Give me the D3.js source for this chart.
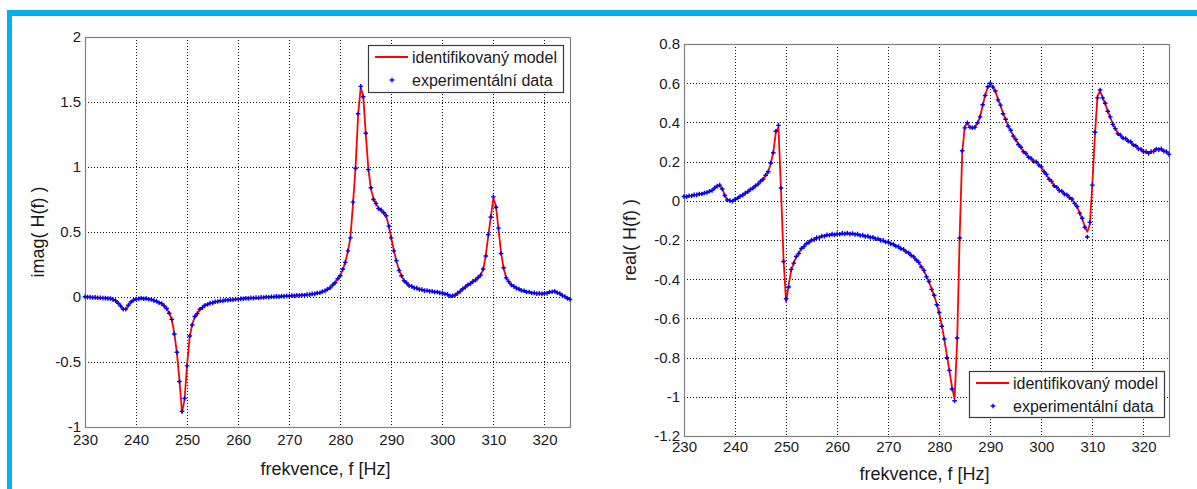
<!DOCTYPE html>
<html>
<head>
<meta charset="utf-8">
<script src="https://cdn.jsdelivr.net/npm/d3@7"></script>
<style>
  body { margin: 0; background: #fff; }
  svg text { font-family: "Liberation Sans", Arial, sans-serif; fill: #1a1a1a; }
</style>
</head>
<body>
<svg id="svg1" width="1197" height="489"></svg>
<script>
(function (d3) {
    'use strict';

    // frequency grid of the measurement, Hz
    const fStart = 230;
    const fStep = 0.5;
    const fDomain = [230, 325];
    const xTicks = [230, 240, 250, 260, 270, 280, 290, 300, 310, 320];
    const imagTicks = [-1, -0.5, 0, 0.5, 1, 1.5, 2];
    const realTicks = [-1.2, -1, -0.8, -0.6, -0.4, -0.2, 0, 0.2, 0.4, 0.6, 0.8];
    const legendLabels = ["identifikovaný model", "experimentální data"];

    // imag( H(f) ), values every 0.5 Hz from 230 to 325
    const imagModel = [
        0.000, 0.000, -0.002, -0.003, -0.004, -0.005, -0.007, -0.008, -0.010, -0.011,
        -0.013, -0.018, -0.026, -0.045, -0.068, -0.092, -0.095, -0.066, -0.040, -0.025,
        -0.017, -0.013, -0.012, -0.012, -0.013, -0.016, -0.020, -0.026, -0.034, -0.042,
        -0.052, -0.066, -0.090, -0.122, -0.175, -0.280, -0.430, -0.640, -0.890, -0.790,
        -0.520, -0.310, -0.210, -0.155, -0.125, -0.097, -0.080, -0.066, -0.056, -0.049,
        -0.043, -0.038, -0.034, -0.031, -0.028, -0.026, -0.024, -0.022, -0.020, -0.018,
        -0.016, -0.015, -0.013, -0.012, -0.010, -0.009, -0.008, -0.007, -0.006, -0.005,
        -0.003, -0.002, -0.001, 0.000, 0.002, 0.003, 0.004, 0.005, 0.006, 0.007,
        0.008, 0.009, 0.010, 0.011, 0.012, 0.013, 0.015, 0.017, 0.019, 0.022,
        0.025, 0.029, 0.034, 0.040, 0.048, 0.058, 0.072, 0.090, 0.112, 0.138,
        0.165, 0.210, 0.270, 0.350, 0.460, 0.720, 1.000, 1.400, 1.610, 1.550,
        1.250, 0.990, 0.830, 0.760, 0.715, 0.685, 0.665, 0.652, 0.620, 0.550,
        0.450, 0.360, 0.275, 0.210, 0.160, 0.128, 0.105, 0.090, 0.080, 0.072,
        0.066, 0.060, 0.055, 0.051, 0.048, 0.045, 0.042, 0.040, 0.037, 0.034,
        0.030, 0.025, 0.018, 0.010, 0.008, 0.015, 0.028, 0.045, 0.062, 0.078,
        0.092, 0.105, 0.118, 0.132, 0.148, 0.170, 0.210, 0.320, 0.470, 0.620,
        0.760, 0.700, 0.520, 0.340, 0.220, 0.150, 0.115, 0.095, 0.080, 0.070,
        0.060, 0.052, 0.046, 0.041, 0.037, 0.033, 0.030, 0.028, 0.026, 0.026,
        0.027, 0.030, 0.036, 0.042, 0.042, 0.035, 0.025, 0.014, 0.002, -0.010,
        -0.020
    ];
    const imagData = [
        0.002, -0.001, -0.001, -0.004, -0.003, -0.006, -0.006, -0.009, -0.009, -0.012,
        -0.012, -0.020, -0.028, -0.048, -0.070, -0.094, -0.093, -0.064, -0.038, -0.024,
        -0.015, -0.014, -0.010, -0.013, -0.012, -0.017, -0.019, -0.028, -0.033, -0.044,
        -0.050, -0.068, -0.088, -0.125, -0.172, -0.285, -0.425, -0.650, -0.880, -0.780,
        -0.530, -0.300, -0.215, -0.150, -0.128, -0.094, -0.082, -0.064, -0.058, -0.047,
        -0.045, -0.036, -0.035, -0.029, -0.029, -0.024, -0.025, -0.020, -0.021, -0.016,
        -0.017, -0.013, -0.014, -0.010, -0.011, -0.007, -0.009, -0.005, -0.007, -0.003,
        -0.004, 0.000, -0.002, 0.002, 0.001, 0.005, 0.003, 0.007, 0.005, 0.009,
        0.007, 0.011, 0.009, 0.013, 0.011, 0.015, 0.014, 0.019, 0.018, 0.024,
        0.024, 0.031, 0.033, 0.042, 0.047, 0.060, 0.070, 0.092, 0.110, 0.140,
        0.163, 0.213, 0.266, 0.355, 0.455, 0.730, 0.990, 1.410, 1.620, 1.540,
        1.260, 0.980, 0.840, 0.750, 0.720, 0.680, 0.670, 0.648, 0.625, 0.545,
        0.455, 0.355, 0.280, 0.205, 0.163, 0.125, 0.108, 0.087, 0.082, 0.070,
        0.068, 0.058, 0.057, 0.049, 0.050, 0.043, 0.044, 0.038, 0.039, 0.032,
        0.032, 0.023, 0.020, 0.008, 0.010, 0.013, 0.030, 0.043, 0.064, 0.076,
        0.094, 0.103, 0.120, 0.130, 0.150, 0.168, 0.215, 0.315, 0.480, 0.615,
        0.770, 0.690, 0.530, 0.335, 0.225, 0.147, 0.118, 0.093, 0.082, 0.068,
        0.062, 0.050, 0.048, 0.039, 0.039, 0.031, 0.032, 0.026, 0.028, 0.024,
        0.029, 0.028, 0.038, 0.040, 0.044, 0.033, 0.027, 0.012, 0.004, -0.012,
        -0.018
    ];

    // real( H(f) ), values every 0.5 Hz from 230 to 325
    const realModel = [
        0.020, 0.022, 0.024, 0.026, 0.029, 0.031, 0.034, 0.036, 0.039, 0.043,
        0.047, 0.054, 0.064, 0.076, 0.078, 0.062, 0.025, 0.006, 0.000, 0.000,
        0.007, 0.014, 0.022, 0.030, 0.038, 0.047, 0.056, 0.065, 0.075, 0.086,
        0.098, 0.112, 0.128, 0.150, 0.190, 0.250, 0.350, 0.375, 0.055, -0.300,
        -0.515, -0.430, -0.355, -0.315, -0.287, -0.265, -0.245, -0.232, -0.220, -0.210,
        -0.202, -0.196, -0.190, -0.186, -0.182, -0.179, -0.176, -0.174, -0.172, -0.171,
        -0.170, -0.169, -0.168, -0.167, -0.167, -0.168, -0.169, -0.170, -0.172, -0.175,
        -0.177, -0.180, -0.182, -0.185, -0.188, -0.192, -0.196, -0.200, -0.204, -0.208,
        -0.212, -0.218, -0.224, -0.230, -0.236, -0.243, -0.250, -0.258, -0.267, -0.277,
        -0.288, -0.300, -0.316, -0.335, -0.358, -0.385, -0.415, -0.448, -0.485, -0.525,
        -0.575, -0.635, -0.710, -0.790, -0.870, -0.950, -1.010, -0.720, -0.180, 0.245,
        0.380, 0.395, 0.378, 0.370, 0.378, 0.395, 0.430, 0.485, 0.540, 0.578,
        0.595, 0.585, 0.557, 0.520, 0.485, 0.448, 0.413, 0.383, 0.357, 0.333,
        0.310, 0.290, 0.270, 0.253, 0.238, 0.225, 0.213, 0.204, 0.196, 0.185,
        0.170, 0.152, 0.132, 0.113, 0.096, 0.080, 0.066, 0.055, 0.046, 0.037,
        0.028, 0.019, 0.006, -0.010, -0.032, -0.060, -0.092, -0.130, -0.158, -0.120,
        0.090, 0.340, 0.535, 0.560, 0.528, 0.495, 0.460, 0.425, 0.393, 0.365,
        0.345, 0.332, 0.322, 0.315, 0.307, 0.298, 0.288, 0.278, 0.268, 0.260,
        0.253, 0.248, 0.245, 0.248, 0.255, 0.261, 0.264, 0.262, 0.256, 0.248,
        0.240
    ];
    const realData = [
        0.022, 0.021, 0.026, 0.025, 0.030, 0.030, 0.035, 0.035, 0.040, 0.042,
        0.049, 0.053, 0.066, 0.075, 0.080, 0.060, 0.027, 0.004, 0.001, -0.002,
        0.008, 0.013, 0.023, 0.029, 0.039, 0.046, 0.058, 0.064, 0.077, 0.085,
        0.100, 0.110, 0.130, 0.148, 0.193, 0.245, 0.355, 0.385, 0.065, -0.310,
        -0.500, -0.440, -0.350, -0.318, -0.284, -0.268, -0.243, -0.234, -0.218, -0.212,
        -0.200, -0.198, -0.188, -0.188, -0.180, -0.181, -0.174, -0.176, -0.170, -0.173,
        -0.168, -0.171, -0.166, -0.169, -0.165, -0.170, -0.167, -0.172, -0.170, -0.177,
        -0.175, -0.182, -0.180, -0.187, -0.186, -0.194, -0.194, -0.202, -0.202, -0.210,
        -0.210, -0.220, -0.222, -0.232, -0.234, -0.245, -0.248, -0.260, -0.265, -0.279,
        -0.286, -0.302, -0.314, -0.338, -0.355, -0.388, -0.412, -0.452, -0.482, -0.530,
        -0.570, -0.640, -0.705, -0.800, -0.865, -0.960, -1.020, -0.700, -0.190, 0.255,
        0.372, 0.398, 0.375, 0.373, 0.376, 0.398, 0.428, 0.490, 0.537, 0.582,
        0.600, 0.580, 0.560, 0.515, 0.488, 0.444, 0.416, 0.380, 0.360, 0.330,
        0.313, 0.287, 0.273, 0.250, 0.241, 0.222, 0.216, 0.201, 0.199, 0.182,
        0.173, 0.149, 0.135, 0.110, 0.099, 0.077, 0.069, 0.052, 0.049, 0.034,
        0.031, 0.016, 0.009, -0.013, -0.029, -0.063, -0.089, -0.135, -0.185, -0.110,
        0.080, 0.350, 0.525, 0.565, 0.525, 0.498, 0.457, 0.428, 0.390, 0.368,
        0.342, 0.335, 0.319, 0.318, 0.304, 0.301, 0.285, 0.281, 0.265, 0.263,
        0.250, 0.251, 0.242, 0.251, 0.252, 0.264, 0.261, 0.265, 0.253, 0.251,
        0.237
    ];

    const svg = d3.select('#svg1');
    const fmt = d => String(+d.toFixed(1));

    const renderPanel = (p) => {
        const x = d3.scaleLinear().domain(fDomain).range([p.left, p.right]);
        const y = d3.scaleLinear().domain(p.yDomain).range([p.bottom, p.top]);
        // rounded copies so the dotted grid stays crisp
        const xr = x.copy().interpolate(d3.interpolateRound);
        const yr = y.copy().interpolate(d3.interpolateRound);
        const g = svg.append('g');

        // grid
        const gx = g.append('g')
            .attr('transform', `translate(0,${p.top})`)
            .call(d3.axisBottom(xr).tickValues(xTicks.slice(1)).tickSize(p.bottom - p.top).tickFormat(''));
        const gy = g.append('g')
            .attr('transform', `translate(${p.left},0)`)
            .call(d3.axisRight(yr).tickValues(p.yTicks.slice(1, -1)).tickSize(p.right - p.left).tickFormat(''));
        [gx, gy].forEach(a => {
            a.select('.domain').remove();
            a.selectAll('line')
                .attr('stroke', '#111')
                .attr('stroke-dasharray', '1,2');
        });

        // box
        g.append('rect')
            .attr('x', p.left + 0.5).attr('y', p.top + 0.5)
            .attr('width', p.right - p.left).attr('height', p.bottom - p.top)
            .attr('fill', 'none').attr('stroke', '#808080').attr('stroke-width', 1.2);

        // tick labels
        const ax = g.append('g')
            .attr('transform', `translate(0,${p.bottom})`)
            .call(d3.axisBottom(x).tickValues(xTicks).tickSize(0).tickPadding(p.xPad));
        const ay = g.append('g')
            .attr('transform', `translate(${p.left},0)`)
            .call(d3.axisLeft(y).tickValues(p.yTicks).tickSize(0).tickPadding(4).tickFormat(fmt));
        [ax, ay].forEach(a => {
            a.select('.domain').remove();
            a.selectAll('text').attr('fill', '#111').style('font-size', '15px')
                .style('font-family', '"Liberation Sans", Arial, sans-serif');
        });

        // model line
        const line = d3.line()
            .x((d, i) => x(fStart + i * fStep))
            .y(d => y(d));
        g.append('path')
            .datum(p.model)
            .attr('fill', 'none')
            .attr('stroke', '#ff0000')
            .attr('stroke-width', 1.8)
            .attr('stroke-linejoin', 'round')
            .attr('d', line);

        // experimental points as small '+'
        const s = 2.3;
        const plus = p.data.map((d, i) => {
            const px = x(fStart + i * fStep), py = y(d);
            return `M${px - s},${py}h${2 * s}M${px},${py - s}v${2 * s}`;
        }).join('');
        g.append('path')
            .attr('d', plus)
            .attr('fill', 'none')
            .attr('stroke', '#0000ff')
            .attr('stroke-width', 1.4);

        // axis labels
        g.append('text')
            .attr('x', (p.left + p.right) / 2 - 2)
            .attr('y', p.xLabelY)
            .attr('text-anchor', 'middle')
            .style('font-size', '18px')
            .text('frekvence, f [Hz]');
        g.append('text')
            .attr('transform', `translate(${p.yLabelX},${(p.top + p.bottom) / 2}) rotate(-90)`)
            .attr('text-anchor', 'middle')
            .style('font-size', '18px')
            .text(p.yLabel);

        // legend
        const L = p.legend;
        const lg = g.append('g').attr('transform', `translate(${L.x},${L.y})`);
        lg.append('rect')
            .attr('x', 0.5).attr('y', 0.5)
            .attr('width', L.w).attr('height', L.h)
            .attr('fill', '#fff').attr('stroke', '#3a3a3a').attr('stroke-width', 1.2);
        lg.append('line')
            .attr('x1', 7).attr('x2', 40).attr('y1', 12).attr('y2', 12)
            .attr('stroke', '#ff0000').attr('stroke-width', 1.8);
        lg.append('path')
            .attr('d', `M${24 - s},35h${2 * s}M24,${35 - s}v${2 * s}`)
            .attr('stroke', '#0000ff').attr('stroke-width', 1.4);
        lg.selectAll('text.leg')
            .data(legendLabels)
            .join('text')
            .attr('class', 'leg')
            .attr('x', 44)
            .attr('y', (d, i) => 17.5 + i * 23)
            .style('font-size', '16px')
            .text(d => d);
    };

    // blue frame of the slide
    svg.append('rect').attr('x', 7).attr('y', 10).attr('width', 1190).attr('height', 6).attr('fill', '#00b0f0');
    svg.append('rect').attr('x', 7).attr('y', 10).attr('width', 5).attr('height', 479).attr('fill', '#00b0f0');

    renderPanel({
        left: 85, right: 570, top: 37, bottom: 427,
        yDomain: [-1, 2], yTicks: imagTicks,
        model: imagModel, data: imagData,
        yLabel: 'imag( H(f) )', yLabelX: 44, xLabelY: 475, xPad: 7,
        legend: { x: 368, y: 45, w: 195, h: 47 }
    });
    renderPanel({
        left: 684, right: 1169, top: 44, bottom: 436,
        yDomain: [-1.2, 0.8], yTicks: realTicks,
        model: realModel, data: realData,
        yLabel: 'real( H(f) )', yLabelX: 636, xLabelY: 480, xPad: 5.5,
        legend: { x: 969, y: 371, w: 195, h: 46 }
    });

}(d3));
</script>
</body>
</html>
